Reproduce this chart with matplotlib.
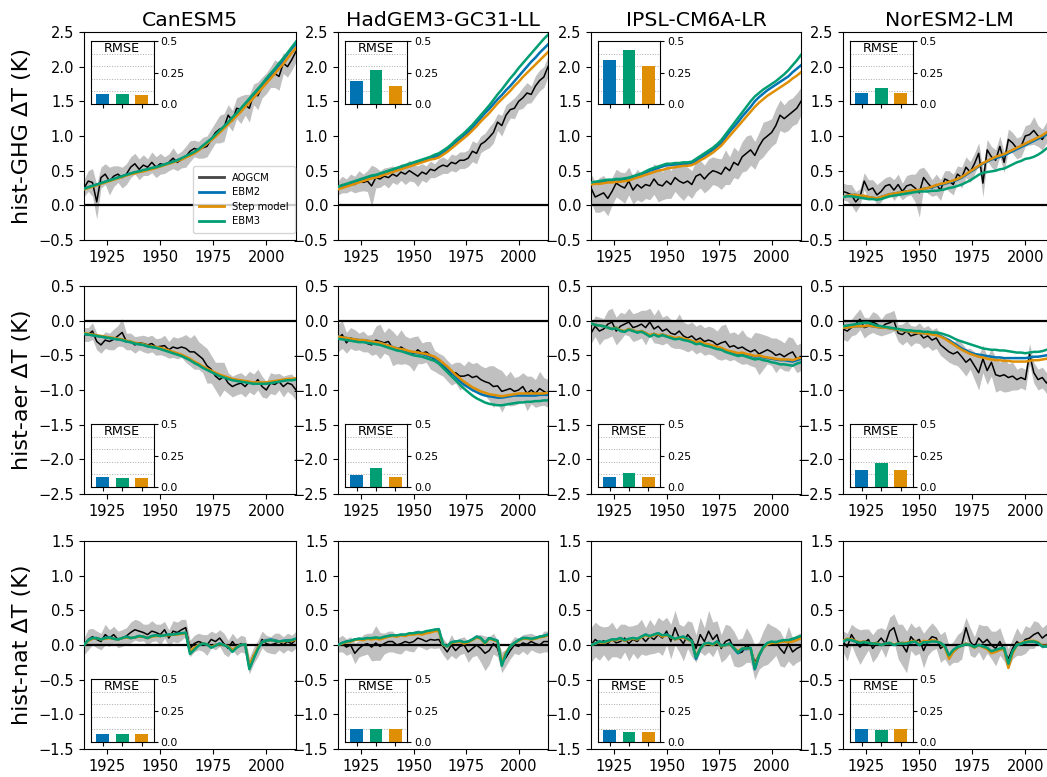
import numpy as np
import matplotlib.pyplot as plt
from matplotlib.lines import Line2D
from matplotlib.ticker import MultipleLocator

years = np.arange(1914, 2015, 2)
models = ["CanESM5", "HadGEM3-GC31-LL", "IPSL-CM6A-LR", "NorESM2-LM"]
experiments = ["hist-GHG", "hist-aer", "hist-nat"]
series_labels = ["AOGCM", "EBM2", "Step model", "EBM3"]
rmse_labels = ["EBM2", "EBM3", "Step model"]

# ---------------- hist-GHG ----------------
ghg_can_aogcm = [0.25, 0.35, 0.33, 0.05, 0.40, 0.45, 0.35, 0.42, 0.45, 0.40,
                 0.45, 0.55, 0.60, 0.52, 0.58, 0.55, 0.62, 0.55, 0.60, 0.58,
                 0.62, 0.68, 0.62, 0.66, 0.70, 0.78, 0.82, 0.80, 0.83, 0.85,
                 0.95, 1.05, 1.10, 1.12, 1.30, 1.22, 1.40, 1.38, 1.45, 1.40,
                 1.60, 1.58, 1.70, 1.76, 1.85, 1.90, 1.86, 2.05, 2.00, 2.10, 2.22]
ghg_can_spread = [0.12, 0.15, 0.20, 0.25, 0.15, 0.15, 0.20, 0.15, 0.12, 0.15,
                  0.15, 0.15, 0.15, 0.15, 0.15, 0.12, 0.15, 0.15, 0.15, 0.12,
                  0.12, 0.15, 0.12, 0.12, 0.15, 0.15, 0.12, 0.12, 0.15, 0.15,
                  0.15, 0.15, 0.20, 0.20, 0.15, 0.15, 0.15, 0.20, 0.15, 0.20,
                  0.15, 0.20, 0.15, 0.15, 0.15, 0.20, 0.20, 0.15, 0.15, 0.15, 0.15]
ghg_can_ebm2 = [0.24, 0.26, 0.28, 0.30, 0.32, 0.34, 0.36, 0.38, 0.40, 0.42,
                0.44, 0.46, 0.47, 0.49, 0.50, 0.52, 0.53, 0.55, 0.57, 0.59,
                0.61, 0.63, 0.65, 0.67, 0.70, 0.73, 0.76, 0.80, 0.85, 0.90,
                0.95, 1.01, 1.07, 1.13, 1.19, 1.25, 1.31, 1.38, 1.45, 1.52,
                1.59, 1.66, 1.73, 1.81, 1.88, 1.95, 2.02, 2.10, 2.18, 2.26, 2.33]
ghg_can_step = [0.23, 0.25, 0.27, 0.29, 0.31, 0.33, 0.35, 0.37, 0.39, 0.41,
                0.43, 0.45, 0.46, 0.48, 0.49, 0.51, 0.52, 0.54, 0.56, 0.58,
                0.60, 0.62, 0.64, 0.66, 0.69, 0.72, 0.75, 0.79, 0.84, 0.89,
                0.94, 0.99, 1.05, 1.11, 1.17, 1.23, 1.29, 1.35, 1.42, 1.48,
                1.55, 1.62, 1.69, 1.76, 1.83, 1.90, 1.97, 2.04, 2.12, 2.20, 2.27]
ghg_can_ebm3 = [0.24, 0.26, 0.28, 0.30, 0.32, 0.34, 0.36, 0.38, 0.40, 0.42,
                0.44, 0.46, 0.48, 0.49, 0.51, 0.52, 0.54, 0.55, 0.57, 0.59,
                0.61, 0.63, 0.65, 0.68, 0.71, 0.74, 0.77, 0.81, 0.86, 0.91,
                0.96, 1.02, 1.08, 1.14, 1.20, 1.27, 1.33, 1.40, 1.47, 1.54,
                1.61, 1.68, 1.75, 1.83, 1.90, 1.97, 2.05, 2.12, 2.20, 2.28, 2.36]

ghg_had_aogcm = [0.25, 0.30, 0.28, 0.33, 0.30, 0.35, 0.33, 0.35, 0.28, 0.40,
                 0.38, 0.42, 0.40, 0.45, 0.42, 0.48, 0.45, 0.50, 0.46, 0.42,
                 0.48, 0.45, 0.52, 0.50, 0.55, 0.58, 0.56, 0.62, 0.60, 0.65,
                 0.65, 0.68, 0.78, 0.75, 0.88, 0.92, 0.98, 1.05, 1.20, 1.15,
                 1.30, 1.38, 1.40, 1.50, 1.55, 1.62, 1.60, 1.72, 1.80, 1.85, 2.00]
ghg_had_spread = [0.10, 0.12, 0.10, 0.12, 0.12, 0.15, 0.12, 0.15, 0.30, 0.15,
                  0.12, 0.12, 0.15, 0.12, 0.12, 0.12, 0.15, 0.15, 0.12, 0.15,
                  0.12, 0.12, 0.12, 0.10, 0.12, 0.12, 0.10, 0.12, 0.12, 0.12,
                  0.12, 0.12, 0.15, 0.15, 0.12, 0.12, 0.15, 0.15, 0.12, 0.15,
                  0.15, 0.12, 0.15, 0.12, 0.15, 0.15, 0.12, 0.15, 0.15, 0.15, 0.15]
ghg_had_ebm2 = [0.25, 0.27, 0.29, 0.31, 0.33, 0.35, 0.37, 0.39, 0.41, 0.42,
                0.44, 0.46, 0.48, 0.50, 0.52, 0.54, 0.56, 0.58, 0.60, 0.62,
                0.64, 0.66, 0.68, 0.70, 0.72, 0.76, 0.80, 0.85, 0.91, 0.96,
                1.01, 1.06, 1.12, 1.19, 1.26, 1.33, 1.39, 1.46, 1.53, 1.59,
                1.66, 1.72, 1.79, 1.86, 1.93, 2.00, 2.07, 2.13, 2.20, 2.26, 2.32]
ghg_had_step = [0.23, 0.25, 0.27, 0.29, 0.31, 0.33, 0.35, 0.37, 0.39, 0.40,
                0.42, 0.44, 0.46, 0.48, 0.50, 0.52, 0.54, 0.56, 0.58, 0.60,
                0.62, 0.64, 0.66, 0.67, 0.69, 0.73, 0.77, 0.82, 0.87, 0.92,
                0.97, 1.02, 1.08, 1.14, 1.21, 1.27, 1.33, 1.40, 1.47, 1.53,
                1.59, 1.65, 1.72, 1.78, 1.85, 1.91, 1.97, 2.03, 2.09, 2.15, 2.21]
ghg_had_ebm3 = [0.27, 0.29, 0.31, 0.33, 0.35, 0.37, 0.39, 0.41, 0.43, 0.44,
                0.46, 0.48, 0.50, 0.52, 0.54, 0.56, 0.58, 0.60, 0.62, 0.64,
                0.66, 0.68, 0.70, 0.73, 0.75, 0.79, 0.83, 0.88, 0.94, 0.99,
                1.04, 1.10, 1.16, 1.23, 1.30, 1.37, 1.44, 1.52, 1.60, 1.67,
                1.75, 1.83, 1.90, 1.98, 2.05, 2.12, 2.19, 2.26, 2.33, 2.40, 2.46]

ghg_ipsl_aogcm = [0.25, 0.12, 0.15, 0.18, 0.10, 0.20, 0.32, 0.28, 0.25, 0.35,
                  0.22, 0.30, 0.25, 0.30, 0.28, 0.38, 0.30, 0.28, 0.35, 0.30,
                  0.40, 0.35, 0.32, 0.35, 0.30, 0.42, 0.45, 0.38, 0.45, 0.50,
                  0.48, 0.45, 0.55, 0.50, 0.62, 0.58, 0.70, 0.75, 0.80, 0.72,
                  0.85, 0.95, 1.00, 1.05, 1.15, 1.30, 1.25, 1.30, 1.35, 1.40, 1.50]
ghg_ipsl_spread = [0.20, 0.22, 0.25, 0.25, 0.25, 0.20, 0.20, 0.20, 0.22, 0.20,
                   0.20, 0.22, 0.20, 0.20, 0.20, 0.22, 0.25, 0.20, 0.25, 0.20,
                   0.20, 0.22, 0.25, 0.20, 0.20, 0.22, 0.20, 0.20, 0.22, 0.20,
                   0.20, 0.22, 0.25, 0.20, 0.22, 0.20, 0.22, 0.25, 0.22, 0.20,
                   0.20, 0.25, 0.22, 0.20, 0.25, 0.22, 0.20, 0.22, 0.20, 0.22, 0.20]
ghg_ipsl_ebm2 = [0.32, 0.33, 0.33, 0.34, 0.35, 0.35, 0.36, 0.36, 0.37, 0.38,
                 0.40, 0.42, 0.44, 0.47, 0.50, 0.52, 0.54, 0.56, 0.58, 0.58,
                 0.59, 0.59, 0.60, 0.60, 0.61, 0.64, 0.68, 0.72, 0.76, 0.80,
                 0.85, 0.90, 0.98, 1.06, 1.13, 1.20, 1.28, 1.35, 1.42, 1.50,
                 1.56, 1.61, 1.66, 1.70, 1.74, 1.78, 1.82, 1.86, 1.92, 1.97, 2.02]
ghg_ipsl_step = [0.30, 0.31, 0.31, 0.32, 0.33, 0.33, 0.34, 0.34, 0.35, 0.36,
                 0.38, 0.40, 0.42, 0.44, 0.46, 0.48, 0.50, 0.51, 0.53, 0.54,
                 0.55, 0.56, 0.57, 0.57, 0.58, 0.61, 0.65, 0.68, 0.72, 0.76,
                 0.81, 0.86, 0.93, 1.00, 1.07, 1.14, 1.21, 1.28, 1.35, 1.42,
                 1.48, 1.53, 1.58, 1.62, 1.66, 1.70, 1.74, 1.78, 1.83, 1.87, 1.92]
ghg_ipsl_ebm3 = [0.33, 0.34, 0.35, 0.36, 0.37, 0.37, 0.38, 0.38, 0.39, 0.40,
                 0.42, 0.44, 0.46, 0.49, 0.52, 0.54, 0.56, 0.58, 0.60, 0.60,
                 0.61, 0.61, 0.62, 0.62, 0.63, 0.67, 0.71, 0.75, 0.79, 0.83,
                 0.88, 0.94, 1.02, 1.10, 1.18, 1.26, 1.34, 1.42, 1.50, 1.57,
                 1.62, 1.67, 1.71, 1.75, 1.79, 1.84, 1.89, 1.95, 2.02, 2.09, 2.17]

ghg_nor_aogcm = [0.20, 0.18, 0.15, 0.05, 0.12, 0.35, 0.22, 0.25, 0.15, 0.20,
                 0.28, 0.30, 0.22, 0.30, 0.20, 0.28, 0.30, 0.25, 0.18, 0.40,
                 0.32, 0.25, 0.30, 0.22, 0.38, 0.35, 0.30, 0.45, 0.40, 0.55,
                 0.48, 0.60, 0.75, 0.32, 0.80, 0.70, 0.65, 0.85, 0.62, 0.95,
                 0.90, 0.82, 0.85, 1.00, 1.02, 1.08, 1.00, 0.95, 1.05, 0.92, 1.00]
ghg_nor_spread = [0.12, 0.12, 0.15, 0.15, 0.12, 0.12, 0.15, 0.12, 0.15, 0.15,
                  0.12, 0.12, 0.15, 0.15, 0.12, 0.15, 0.15, 0.20, 0.35, 0.15,
                  0.15, 0.12, 0.15, 0.15, 0.12, 0.15, 0.15, 0.12, 0.15, 0.15,
                  0.15, 0.15, 0.15, 0.20, 0.15, 0.15, 0.15, 0.15, 0.15, 0.15,
                  0.15, 0.15, 0.15, 0.15, 0.15, 0.20, 0.15, 0.15, 0.15, 0.15, 0.15]
ghg_nor_ebm2 = [0.12, 0.14, 0.15, 0.15, 0.14, 0.13, 0.12, 0.11, 0.10, 0.12,
                0.14, 0.16, 0.17, 0.18, 0.19, 0.20, 0.21, 0.21, 0.22, 0.24,
                0.25, 0.26, 0.28, 0.30, 0.31, 0.33, 0.35, 0.37, 0.40, 0.44,
                0.48, 0.52, 0.56, 0.60, 0.63, 0.66, 0.68, 0.70, 0.72, 0.75,
                0.78, 0.81, 0.84, 0.87, 0.90, 0.93, 0.96, 0.99, 1.02, 1.05, 1.08]
ghg_nor_step = [0.12, 0.14, 0.15, 0.15, 0.14, 0.14, 0.12, 0.11, 0.10, 0.12,
                0.14, 0.16, 0.17, 0.18, 0.19, 0.20, 0.21, 0.22, 0.22, 0.24,
                0.25, 0.27, 0.29, 0.31, 0.32, 0.34, 0.36, 0.38, 0.41, 0.45,
                0.49, 0.53, 0.57, 0.61, 0.64, 0.67, 0.70, 0.72, 0.74, 0.77,
                0.80, 0.83, 0.86, 0.89, 0.92, 0.95, 0.98, 1.01, 1.05, 1.09, 1.12]
ghg_nor_ebm3 = [0.12, 0.13, 0.13, 0.12, 0.11, 0.10, 0.09, 0.09, 0.08, 0.09,
                0.11, 0.13, 0.14, 0.15, 0.16, 0.17, 0.18, 0.19, 0.20, 0.20,
                0.20, 0.21, 0.21, 0.22, 0.23, 0.25, 0.26, 0.28, 0.30, 0.33,
                0.36, 0.40, 0.44, 0.47, 0.48, 0.49, 0.50, 0.52, 0.53, 0.56,
                0.59, 0.62, 0.64, 0.67, 0.68, 0.70, 0.73, 0.77, 0.82, 0.85, 0.88]

# ---------------- hist-aer ----------------
aer_can_aogcm = [-0.20, -0.20, -0.15, -0.30, -0.35, -0.28, -0.30, -0.27, -0.22, -0.17,
                 -0.30, -0.30, -0.35, -0.32, -0.33, -0.35, -0.33, -0.38, -0.37, -0.36,
                 -0.42, -0.38, -0.40, -0.38, -0.40, -0.45, -0.45, -0.50, -0.55, -0.65,
                 -0.70, -0.80, -0.85, -0.80, -0.90, -0.95, -0.92, -0.90, -0.95, -0.88,
                 -0.92, -0.85, -0.95, -1.00, -0.90, -0.92, -0.88, -0.95, -0.90, -0.92, -1.00]
aer_can_spread = [0.10, 0.10, 0.12, 0.12, 0.12, 0.12, 0.12, 0.15, 0.15, 0.20,
                  0.12, 0.12, 0.12, 0.10, 0.12, 0.12, 0.12, 0.12, 0.12, 0.15,
                  0.12, 0.15, 0.15, 0.15, 0.20, 0.20, 0.25, 0.20, 0.20, 0.25,
                  0.20, 0.20, 0.25, 0.20, 0.15, 0.15, 0.15, 0.15, 0.15, 0.15,
                  0.15, 0.15, 0.15, 0.12, 0.15, 0.15, 0.12, 0.15, 0.12, 0.15, 0.15]
aer_can_ebm2 = [-0.19, -0.20, -0.21, -0.22, -0.23, -0.24, -0.25, -0.26, -0.27, -0.28,
                -0.30, -0.31, -0.33, -0.34, -0.35, -0.37, -0.38, -0.39, -0.40, -0.42,
                -0.44, -0.46, -0.48, -0.50, -0.53, -0.56, -0.60, -0.63, -0.67, -0.70,
                -0.73, -0.76, -0.79, -0.81, -0.83, -0.85, -0.86, -0.87, -0.88, -0.89,
                -0.90, -0.90, -0.90, -0.90, -0.89, -0.88, -0.87, -0.86, -0.85, -0.85, -0.84]
aer_can_step = [-0.18, -0.19, -0.20, -0.21, -0.22, -0.23, -0.24, -0.25, -0.26, -0.27,
                -0.29, -0.30, -0.32, -0.33, -0.34, -0.36, -0.37, -0.38, -0.39, -0.41,
                -0.43, -0.45, -0.47, -0.49, -0.52, -0.55, -0.59, -0.62, -0.66, -0.69,
                -0.72, -0.75, -0.78, -0.80, -0.82, -0.84, -0.85, -0.86, -0.87, -0.88,
                -0.89, -0.89, -0.89, -0.89, -0.88, -0.87, -0.86, -0.85, -0.84, -0.84, -0.83]
aer_can_ebm3 = [-0.19, -0.20, -0.21, -0.22, -0.23, -0.24, -0.25, -0.26, -0.27, -0.28,
                -0.30, -0.31, -0.33, -0.34, -0.35, -0.37, -0.38, -0.39, -0.41, -0.43,
                -0.45, -0.47, -0.49, -0.51, -0.54, -0.57, -0.61, -0.64, -0.68, -0.71,
                -0.74, -0.77, -0.80, -0.82, -0.84, -0.86, -0.87, -0.88, -0.89, -0.90,
                -0.91, -0.91, -0.91, -0.91, -0.90, -0.89, -0.88, -0.87, -0.86, -0.86, -0.85]

aer_had_aogcm = [-0.25, -0.20, -0.32, -0.25, -0.28, -0.30, -0.30, -0.33, -0.35, -0.28,
                 -0.30, -0.32, -0.30, -0.40, -0.42, -0.38, -0.42, -0.45, -0.48, -0.42,
                 -0.47, -0.45, -0.50, -0.58, -0.62, -0.65, -0.72, -0.78, -0.75, -0.80,
                 -0.80, -0.78, -0.82, -0.80, -0.85, -0.88, -0.90, -0.95, -0.94, -1.02,
                 -1.00, -0.98, -1.02, -1.00, -0.95, -1.05, -1.00, -1.05, -0.98, -1.02, -1.05]
aer_had_spread = [0.20, 0.20, 0.15, 0.15, 0.15, 0.12, 0.15, 0.12, 0.15, 0.20,
                  0.25, 0.15, 0.20, 0.25, 0.20, 0.25, 0.20, 0.20, 0.25, 0.20,
                  0.15, 0.15, 0.20, 0.15, 0.15, 0.15, 0.15, 0.15, 0.15, 0.20,
                  0.15, 0.20, 0.20, 0.20, 0.20, 0.20, 0.25, 0.30, 0.25, 0.30,
                  0.20, 0.25, 0.20, 0.20, 0.20, 0.25, 0.20, 0.20, 0.25, 0.20, 0.20]
aer_had_ebm2 = [-0.23, -0.24, -0.25, -0.26, -0.27, -0.28, -0.28, -0.29, -0.30, -0.31,
                -0.32, -0.34, -0.36, -0.38, -0.40, -0.41, -0.43, -0.45, -0.46, -0.47,
                -0.48, -0.50, -0.52, -0.54, -0.58, -0.63, -0.69, -0.75, -0.81, -0.87,
                -0.92, -0.96, -1.00, -1.03, -1.06, -1.08, -1.09, -1.10, -1.11, -1.11,
                -1.10, -1.09, -1.08, -1.08, -1.08, -1.08, -1.08, -1.08, -1.07, -1.07, -1.07]
aer_had_step = [-0.23, -0.24, -0.25, -0.26, -0.27, -0.28, -0.28, -0.29, -0.30, -0.31,
                -0.32, -0.34, -0.36, -0.38, -0.40, -0.41, -0.42, -0.44, -0.45, -0.46,
                -0.47, -0.48, -0.50, -0.52, -0.56, -0.61, -0.66, -0.72, -0.78, -0.83,
                -0.88, -0.92, -0.96, -0.99, -1.02, -1.04, -1.06, -1.07, -1.08, -1.09,
                -1.08, -1.07, -1.06, -1.05, -1.05, -1.05, -1.05, -1.05, -1.05, -1.05, -1.04]
aer_had_ebm3 = [-0.26, -0.27, -0.28, -0.29, -0.30, -0.31, -0.31, -0.32, -0.33, -0.34,
                -0.35, -0.37, -0.39, -0.41, -0.43, -0.44, -0.46, -0.48, -0.50, -0.51,
                -0.52, -0.54, -0.56, -0.58, -0.62, -0.68, -0.74, -0.80, -0.86, -0.92,
                -0.98, -1.03, -1.08, -1.12, -1.15, -1.18, -1.20, -1.21, -1.22, -1.22,
                -1.21, -1.20, -1.19, -1.18, -1.18, -1.17, -1.17, -1.16, -1.16, -1.15, -1.15]

aer_ipsl_aogcm = [-0.18, -0.08, -0.15, -0.12, -0.05, -0.02, -0.15, -0.08, -0.05, -0.02,
                  -0.10, -0.08, -0.05, -0.10, -0.02, -0.12, -0.08, -0.15, -0.12, -0.18,
                  -0.20, -0.15, -0.22, -0.25, -0.22, -0.28, -0.25, -0.30, -0.28, -0.30,
                  -0.35, -0.32, -0.30, -0.38, -0.36, -0.40, -0.38, -0.42, -0.45, -0.42,
                  -0.48, -0.45, -0.42, -0.45, -0.50, -0.48, -0.52, -0.48, -0.45, -0.55, -0.52]
aer_ipsl_spread = [0.15, 0.15, 0.20, 0.15, 0.20, 0.20, 0.20, 0.20, 0.15, 0.20,
                   0.20, 0.20, 0.20, 0.25, 0.20, 0.20, 0.25, 0.20, 0.20, 0.20,
                   0.20, 0.25, 0.20, 0.20, 0.20, 0.20, 0.20, 0.20, 0.20, 0.20,
                   0.20, 0.25, 0.25, 0.20, 0.20, 0.20, 0.25, 0.20, 0.20, 0.25,
                   0.30, 0.25, 0.20, 0.20, 0.25, 0.20, 0.20, 0.25, 0.20, 0.20, 0.20]
aer_ipsl_ebm2 = [-0.04, -0.06, -0.07, -0.08, -0.10, -0.12, -0.10, -0.14, -0.16, -0.12,
                 -0.14, -0.17, -0.15, -0.18, -0.22, -0.19, -0.22, -0.20, -0.22, -0.24,
                 -0.26, -0.25, -0.27, -0.28, -0.30, -0.32, -0.31, -0.34, -0.35, -0.37,
                 -0.39, -0.40, -0.43, -0.45, -0.46, -0.48, -0.47, -0.49, -0.50, -0.52,
                 -0.51, -0.53, -0.54, -0.55, -0.56, -0.57, -0.57, -0.58, -0.59, -0.57, -0.55]
aer_ipsl_step = [-0.04, -0.06, -0.07, -0.08, -0.10, -0.12, -0.10, -0.14, -0.15, -0.12,
                 -0.14, -0.16, -0.15, -0.18, -0.21, -0.19, -0.21, -0.20, -0.22, -0.23,
                 -0.25, -0.24, -0.26, -0.27, -0.29, -0.31, -0.30, -0.33, -0.34, -0.36,
                 -0.38, -0.39, -0.42, -0.44, -0.45, -0.47, -0.46, -0.48, -0.49, -0.51,
                 -0.50, -0.52, -0.53, -0.54, -0.55, -0.56, -0.56, -0.56, -0.57, -0.55, -0.53]
aer_ipsl_ebm3 = [-0.04, -0.06, -0.07, -0.08, -0.10, -0.12, -0.11, -0.15, -0.16, -0.13,
                 -0.15, -0.17, -0.16, -0.19, -0.23, -0.20, -0.23, -0.21, -0.23, -0.25,
                 -0.27, -0.26, -0.28, -0.29, -0.31, -0.34, -0.33, -0.36, -0.37, -0.39,
                 -0.41, -0.42, -0.45, -0.47, -0.49, -0.51, -0.50, -0.52, -0.54, -0.56,
                 -0.55, -0.57, -0.58, -0.60, -0.61, -0.63, -0.63, -0.64, -0.65, -0.62, -0.60]

aer_nor_aogcm = [-0.12, -0.15, -0.10, -0.05, 0.02, -0.10, -0.08, -0.02, -0.05, -0.10,
                 -0.05, -0.03, 0.00, -0.18, -0.20, -0.15, -0.22, -0.20, -0.18, -0.25,
                 -0.22, -0.28, -0.25, -0.35, -0.40, -0.45, -0.48, -0.45, -0.52, -0.60,
                 -0.55, -0.65, -0.75, -0.55, -0.72, -0.60, -0.78, -0.80, -0.78, -0.82,
                 -0.80, -0.85, -0.82, -0.85, -0.48, -0.75, -0.85, -0.82, -0.90, -0.82, -0.88]
aer_nor_spread = [0.15, 0.15, 0.12, 0.15, 0.15, 0.15, 0.12, 0.15, 0.15, 0.12,
                  0.15, 0.15, 0.15, 0.12, 0.15, 0.15, 0.15, 0.12, 0.15, 0.15,
                  0.15, 0.15, 0.15, 0.15, 0.15, 0.15, 0.15, 0.20, 0.20, 0.20,
                  0.15, 0.20, 0.25, 0.20, 0.20, 0.20, 0.25, 0.20, 0.25, 0.20,
                  0.20, 0.15, 0.15, 0.15, 0.15, 0.15, 0.15, 0.15, 0.15, 0.15, 0.15]
aer_nor_ebm2 = [-0.10, -0.10, -0.09, -0.08, -0.08, -0.08, -0.07, -0.08, -0.09, -0.10,
                -0.10, -0.11, -0.12, -0.13, -0.14, -0.15, -0.16, -0.17, -0.18, -0.18,
                -0.18, -0.19, -0.20, -0.22, -0.25, -0.28, -0.32, -0.36, -0.40, -0.43,
                -0.46, -0.48, -0.49, -0.50, -0.51, -0.52, -0.53, -0.53, -0.54, -0.54,
                -0.54, -0.54, -0.54, -0.54, -0.53, -0.52, -0.52, -0.51, -0.50, -0.48, -0.45]
aer_nor_step = [-0.10, -0.10, -0.09, -0.08, -0.08, -0.08, -0.07, -0.08, -0.09, -0.10,
                -0.10, -0.11, -0.12, -0.13, -0.14, -0.15, -0.16, -0.17, -0.18, -0.18,
                -0.19, -0.20, -0.21, -0.23, -0.26, -0.30, -0.34, -0.38, -0.42, -0.45,
                -0.48, -0.50, -0.52, -0.53, -0.55, -0.56, -0.57, -0.57, -0.58, -0.58,
                -0.59, -0.59, -0.59, -0.59, -0.58, -0.57, -0.57, -0.56, -0.55, -0.52, -0.48]
aer_nor_ebm3 = [-0.08, -0.07, -0.06, -0.05, -0.04, -0.03, -0.03, -0.05, -0.07, -0.08,
                -0.09, -0.10, -0.11, -0.12, -0.13, -0.14, -0.14, -0.15, -0.15, -0.16,
                -0.16, -0.17, -0.17, -0.18, -0.20, -0.22, -0.25, -0.28, -0.30, -0.32,
                -0.34, -0.36, -0.38, -0.40, -0.41, -0.42, -0.42, -0.43, -0.43, -0.44,
                -0.45, -0.46, -0.46, -0.47, -0.46, -0.45, -0.45, -0.44, -0.42, -0.40, -0.38]

# ---------------- hist-nat ----------------
nat_can_aogcm = [-0.02, 0.08, 0.12, 0.08, 0.05, 0.15, 0.10, 0.15, 0.08, 0.10,
                 0.13, 0.18, 0.22, 0.20, 0.18, 0.15, 0.20, 0.18, 0.15, 0.22,
                 0.10, 0.20, 0.18, 0.22, 0.25, -0.05, 0.02, 0.05, 0.03, 0.00,
                 0.08, 0.05, 0.10, 0.02, -0.05, 0.05, -0.03, 0.02, 0.00, -0.30,
                 -0.15, -0.05, 0.08, 0.02, 0.00, 0.02, 0.05, 0.00, 0.05, 0.02, 0.08]
nat_can_spread = [0.12, 0.15, 0.12, 0.12, 0.12, 0.15, 0.12, 0.12, 0.12, 0.12,
                  0.12, 0.15, 0.15, 0.15, 0.12, 0.15, 0.15, 0.12, 0.15, 0.12,
                  0.12, 0.15, 0.15, 0.15, 0.12, 0.12, 0.12, 0.12, 0.12, 0.15,
                  0.12, 0.12, 0.12, 0.15, 0.12, 0.12, 0.12, 0.12, 0.12, 0.12,
                  0.12, 0.12, 0.12, 0.12, 0.12, 0.15, 0.12, 0.12, 0.12, 0.12, 0.12]
nat_can_ebm2 = [0.00, 0.07, 0.10, 0.10, 0.08, 0.10, 0.11, 0.09, 0.08, 0.10,
                0.12, 0.10, 0.11, 0.13, 0.12, 0.10, 0.13, 0.14, 0.13, 0.14,
                0.15, 0.15, 0.16, 0.17, 0.17, -0.10, -0.05, 0.00, 0.02, 0.01,
                -0.03, 0.00, 0.02, 0.00, -0.02, -0.08, -0.03, 0.00, 0.01, -0.32,
                -0.18, -0.05, 0.05, 0.07, 0.08, 0.07, 0.05, 0.06, 0.07, 0.07, 0.09]
nat_can_step = [0.00, 0.06, 0.09, 0.10, 0.08, 0.09, 0.10, 0.09, 0.08, 0.10,
                0.11, 0.10, 0.11, 0.12, 0.12, 0.10, 0.12, 0.13, 0.13, 0.14,
                0.14, 0.15, 0.15, 0.16, 0.17, -0.09, -0.04, 0.00, 0.02, 0.01,
                -0.03, 0.00, 0.01, 0.00, -0.02, -0.07, -0.03, 0.00, 0.01, -0.30,
                -0.16, -0.04, 0.04, 0.06, 0.07, 0.06, 0.05, 0.05, 0.06, 0.06, 0.08]
nat_can_ebm3 = [0.00, 0.07, 0.10, 0.10, 0.08, 0.10, 0.11, 0.09, 0.08, 0.10,
                0.12, 0.10, 0.11, 0.13, 0.12, 0.10, 0.13, 0.14, 0.13, 0.14,
                0.15, 0.15, 0.16, 0.17, 0.18, -0.13, -0.07, -0.01, 0.02, 0.01,
                -0.04, -0.01, 0.02, 0.00, -0.03, -0.10, -0.04, 0.00, 0.01, -0.35,
                -0.20, -0.06, 0.04, 0.06, 0.07, 0.06, 0.05, 0.06, 0.06, 0.07, 0.09]

nat_had_aogcm = [0.00, 0.02, -0.03, 0.00, -0.12, -0.05, 0.00, 0.02, -0.03, 0.03,
                 -0.02, 0.02, 0.05, 0.05, 0.00, 0.02, 0.05, 0.03, 0.05, 0.10,
                 0.08, 0.05, 0.08, 0.07, 0.08, -0.02, -0.10, 0.00, -0.08, -0.02,
                 0.00, -0.10, -0.05, 0.00, -0.05, -0.12, -0.08, 0.02, -0.05, -0.25,
                 -0.18, -0.08, 0.00, -0.02, 0.03, 0.01, 0.05, 0.02, 0.00, 0.05, 0.05]
nat_had_spread = [0.10, 0.12, 0.12, 0.12, 0.15, 0.12, 0.15, 0.15, 0.20, 0.25,
                  0.20, 0.15, 0.15, 0.15, 0.12, 0.15, 0.12, 0.12, 0.15, 0.12,
                  0.12, 0.12, 0.12, 0.12, 0.12, 0.12, 0.12, 0.15, 0.12, 0.12,
                  0.12, 0.15, 0.12, 0.15, 0.20, 0.25, 0.20, 0.15, 0.12, 0.15,
                  0.12, 0.12, 0.12, 0.12, 0.12, 0.15, 0.12, 0.12, 0.12, 0.15, 0.15]
nat_had_ebm2 = [0.00, 0.03, 0.05, 0.06, 0.08, 0.09, 0.08, 0.10, 0.09, 0.10,
                0.09, 0.11, 0.13, 0.14, 0.13, 0.15, 0.14, 0.16, 0.17, 0.18,
                0.17, 0.19, 0.20, 0.22, 0.22, 0.00, -0.02, 0.04, 0.05, 0.06,
                0.03, 0.05, 0.08, 0.12, 0.10, 0.03, 0.10, 0.08, 0.06, -0.28,
                -0.12, -0.02, 0.03, 0.07, 0.10, 0.10, 0.08, 0.10, 0.12, 0.13, 0.15]
nat_had_step = [0.00, 0.02, 0.04, 0.05, 0.07, 0.08, 0.07, 0.09, 0.08, 0.09,
                0.08, 0.10, 0.12, 0.13, 0.12, 0.14, 0.13, 0.15, 0.15, 0.16,
                0.15, 0.17, 0.18, 0.20, 0.20, 0.00, -0.02, 0.03, 0.04, 0.05,
                0.02, 0.04, 0.07, 0.11, 0.09, 0.02, 0.09, 0.07, 0.05, -0.26,
                -0.11, -0.02, 0.03, 0.06, 0.09, 0.09, 0.08, 0.09, 0.11, 0.12, 0.14]
nat_had_ebm3 = [0.00, 0.03, 0.05, 0.06, 0.08, 0.09, 0.09, 0.10, 0.10, 0.11,
                0.10, 0.12, 0.13, 0.14, 0.14, 0.15, 0.15, 0.17, 0.17, 0.18,
                0.18, 0.20, 0.21, 0.22, 0.23, 0.01, -0.02, 0.04, 0.05, 0.06,
                0.04, 0.05, 0.08, 0.12, 0.10, 0.03, 0.10, 0.08, 0.06, -0.30,
                -0.13, -0.02, 0.03, 0.07, 0.10, 0.10, 0.09, 0.10, 0.12, 0.13, 0.15]

nat_ipsl_aogcm = [0.00, 0.08, 0.03, 0.06, 0.02, 0.08, 0.03, 0.05, 0.10, 0.02,
                  0.08, 0.05, 0.12, 0.05, 0.12, 0.08, 0.15, 0.10, 0.20, 0.05,
                  0.25, 0.10, 0.02, 0.15, 0.08, -0.05, 0.15, 0.05, 0.20, 0.08,
                  0.15, -0.05, 0.05, 0.08, -0.05, -0.12, -0.10, 0.00, -0.05, -0.25,
                  -0.15, -0.05, 0.02, 0.03, 0.05, -0.05, -0.12, 0.02, -0.10, -0.05, -0.02]
nat_ipsl_spread = [0.25, 0.25, 0.25, 0.20, 0.25, 0.25, 0.20, 0.25, 0.20, 0.25,
                   0.20, 0.25, 0.25, 0.20, 0.25, 0.20, 0.25, 0.25, 0.20, 0.25,
                   0.25, 0.20, 0.25, 0.20, 0.25, 0.20, 0.25, 0.20, 0.30, 0.25,
                   0.20, 0.20, 0.25, 0.20, 0.25, 0.20, 0.20, 0.25, 0.20, 0.25,
                   0.20, 0.25, 0.30, 0.25, 0.20, 0.25, 0.20, 0.25, 0.20, 0.20, 0.20]
nat_ipsl_ebm2 = [0.00, 0.02, 0.05, 0.03, 0.05, 0.08, 0.07, 0.10, 0.06, 0.08,
                 0.10, 0.08, 0.12, 0.15, 0.12, 0.15, 0.17, 0.13, 0.15, 0.12,
                 0.08, 0.10, 0.12, 0.08, 0.05, -0.20, -0.06, 0.01, 0.03, 0.00,
                 0.05, -0.02, 0.00, 0.02, -0.05, -0.12, -0.06, -0.06, -0.05, -0.35,
                 -0.16, -0.04, 0.02, 0.04, 0.03, 0.05, 0.06, 0.06, 0.08, 0.10, 0.12]
nat_ipsl_step = [0.00, 0.02, 0.04, 0.03, 0.05, 0.07, 0.07, 0.09, 0.06, 0.08,
                 0.09, 0.08, 0.11, 0.14, 0.12, 0.14, 0.16, 0.12, 0.14, 0.12,
                 0.08, 0.10, 0.11, 0.08, 0.05, -0.16, -0.05, 0.01, 0.02, 0.00,
                 0.04, -0.02, 0.00, 0.01, -0.04, -0.09, -0.05, -0.05, -0.05, -0.31,
                 -0.14, -0.04, 0.01, 0.03, 0.03, 0.04, 0.05, 0.04, 0.05, 0.07, 0.10]
nat_ipsl_ebm3 = [0.00, 0.02, 0.05, 0.04, 0.06, 0.08, 0.08, 0.10, 0.07, 0.09,
                 0.10, 0.09, 0.12, 0.15, 0.13, 0.15, 0.17, 0.14, 0.15, 0.12,
                 0.09, 0.11, 0.12, 0.09, 0.06, -0.18, -0.05, 0.02, 0.03, 0.01,
                 0.05, -0.01, 0.00, 0.02, -0.04, -0.11, -0.05, -0.05, -0.04, -0.34,
                 -0.15, -0.03, 0.03, 0.05, 0.04, 0.06, 0.07, 0.07, 0.09, 0.11, 0.13]

nat_nor_aogcm = [0.05, -0.03, 0.15, 0.05, -0.03, 0.03, 0.08, -0.05, 0.03, 0.10,
                 0.02, 0.20, 0.25, 0.05, 0.00, -0.10, 0.12, 0.05, 0.08, -0.08,
                 0.05, 0.12, 0.10, -0.05, 0.00, -0.15, -0.10, -0.05, 0.00, 0.25,
                 0.05, -0.03, 0.10, 0.03, 0.08, 0.00, -0.05, 0.05, -0.08, -0.20,
                 -0.05, 0.05, 0.00, 0.08, 0.10, 0.15, 0.18, 0.10, 0.15, 0.08, 0.12]
nat_nor_spread = [0.15, 0.20, 0.15, 0.20, 0.25, 0.20, 0.15, 0.20, 0.20, 0.15,
                  0.20, 0.20, 0.20, 0.25, 0.30, 0.30, 0.20, 0.20, 0.20, 0.25,
                  0.20, 0.20, 0.15, 0.20, 0.20, 0.15, 0.15, 0.20, 0.20, 0.15,
                  0.20, 0.15, 0.20, 0.25, 0.20, 0.20, 0.25, 0.20, 0.15, 0.15,
                  0.15, 0.20, 0.15, 0.20, 0.15, 0.20, 0.15, 0.15, 0.15, 0.15, 0.15]
nat_nor_ebm2 = [0.05, 0.08, 0.07, 0.05, 0.03, 0.05, 0.03, 0.02, 0.03, 0.00,
                0.02, 0.03, 0.00, 0.02, 0.03, 0.02, 0.04, 0.05, 0.00, 0.05,
                0.04, 0.06, 0.05, 0.03, -0.02, -0.17, -0.08, -0.03, -0.01, 0.02,
                0.00, -0.03, 0.00, -0.02, -0.05, -0.10, -0.08, -0.06, -0.05, -0.30,
                -0.10, 0.00, 0.02, 0.04, 0.05, 0.05, 0.03, -0.02, -0.02, 0.00, 0.00]
nat_nor_step = [0.06, 0.09, 0.08, 0.06, 0.04, 0.05, 0.03, 0.02, 0.03, 0.00,
                0.02, 0.03, 0.01, 0.02, 0.03, 0.03, 0.05, 0.06, 0.01, 0.06,
                0.05, 0.07, 0.06, 0.03, -0.03, -0.20, -0.10, -0.04, -0.01, 0.02,
                0.00, -0.04, 0.00, -0.03, -0.06, -0.12, -0.10, -0.07, -0.06, -0.33,
                -0.12, 0.00, 0.03, 0.05, 0.06, 0.06, 0.04, -0.01, -0.01, 0.00, 0.00]
nat_nor_ebm3 = [0.05, 0.08, 0.07, 0.05, 0.03, 0.04, 0.03, 0.02, 0.02, 0.00,
                0.02, 0.03, 0.00, 0.02, 0.02, 0.02, 0.04, 0.05, 0.00, 0.04,
                0.04, 0.05, 0.05, 0.03, -0.02, -0.15, -0.07, -0.03, -0.01, 0.01,
                0.00, -0.03, 0.00, -0.02, -0.04, -0.09, -0.07, -0.05, -0.04, -0.27,
                -0.09, 0.00, 0.02, 0.04, 0.05, 0.05, 0.03, -0.02, -0.02, 0.00, 0.00]

# RMSE per panel, bar order: EBM2, EBM3, Step model
rmse_ghg = [[0.08, 0.08, 0.07], [0.18, 0.27, 0.14], [0.35, 0.43, 0.30], [0.09, 0.13, 0.09]]
rmse_aer = [[0.08, 0.07, 0.07], [0.09, 0.15, 0.08], [0.08, 0.11, 0.08], [0.13, 0.19, 0.13]]
rmse_nat = [[0.06, 0.06, 0.06], [0.10, 0.10, 0.10], [0.09, 0.08, 0.08], [0.10, 0.09, 0.10]]

panels = [
    [(ghg_can_aogcm, ghg_can_spread, ghg_can_ebm2, ghg_can_step, ghg_can_ebm3),
     (ghg_had_aogcm, ghg_had_spread, ghg_had_ebm2, ghg_had_step, ghg_had_ebm3),
     (ghg_ipsl_aogcm, ghg_ipsl_spread, ghg_ipsl_ebm2, ghg_ipsl_step, ghg_ipsl_ebm3),
     (ghg_nor_aogcm, ghg_nor_spread, ghg_nor_ebm2, ghg_nor_step, ghg_nor_ebm3)],
    [(aer_can_aogcm, aer_can_spread, aer_can_ebm2, aer_can_step, aer_can_ebm3),
     (aer_had_aogcm, aer_had_spread, aer_had_ebm2, aer_had_step, aer_had_ebm3),
     (aer_ipsl_aogcm, aer_ipsl_spread, aer_ipsl_ebm2, aer_ipsl_step, aer_ipsl_ebm3),
     (aer_nor_aogcm, aer_nor_spread, aer_nor_ebm2, aer_nor_step, aer_nor_ebm3)],
    [(nat_can_aogcm, nat_can_spread, nat_can_ebm2, nat_can_step, nat_can_ebm3),
     (nat_had_aogcm, nat_had_spread, nat_had_ebm2, nat_had_step, nat_had_ebm3),
     (nat_ipsl_aogcm, nat_ipsl_spread, nat_ipsl_ebm2, nat_ipsl_step, nat_ipsl_ebm3),
     (nat_nor_aogcm, nat_nor_spread, nat_nor_ebm2, nat_nor_step, nat_nor_ebm3)],
]
rmse = [rmse_ghg, rmse_aer, rmse_nat]
ylims = [(-0.5, 2.5), (-2.5, 0.5), (-1.5, 1.5)]

C_EBM2 = "#0173b2"
C_STEP = "#de8f05"
C_EBM3 = "#029e73"
C_BAND = "#c0c0c0"

W, H = 1047, 777
col_left = [84, 338, 591, 843]
col_width = [212, 210, 210, 212]
row_top = [32, 286, 541]
row_h = 208

fig = plt.figure(figsize=(W / 100, H / 100), dpi=100)

for r in range(3):
    for c in range(4):
        aogcm, spread, ebm2, step, ebm3 = [np.array(a) for a in panels[r][c]]
        ax = fig.add_axes([col_left[c] / W, 1 - (row_top[r] + row_h) / H,
                           col_width[c] / W, row_h / H])
        ax.fill_between(years, aogcm - spread, aogcm + spread, color=C_BAND, lw=0, zorder=1)
        ax.axhline(0, color="k", lw=1.6, zorder=1.5)
        ax.plot(years, aogcm, color="k", lw=1.1, zorder=2)
        ax.plot(years, ebm2, color=C_EBM2, lw=1.8, zorder=3)
        ax.plot(years, step, color=C_STEP, lw=1.8, zorder=3)
        ax.plot(years, ebm3, color=C_EBM3, lw=1.8, zorder=3)
        ax.set_xlim(1914, 2014)
        ax.set_ylim(*ylims[r])
        ax.set_xticks([1925, 1950, 1975, 2000])
        ax.yaxis.set_major_locator(MultipleLocator(0.5))
        ax.tick_params(labelsize=10.5)
        if r == 0:
            ax.set_title(models[c], fontsize=14.7, pad=4)
        if r == 0 and c == 0:
            handles = [Line2D([], [], color="#444444", lw=2),
                       Line2D([], [], color=C_EBM2, lw=2),
                       Line2D([], [], color=C_STEP, lw=2),
                       Line2D([], [], color=C_EBM3, lw=2)]
            ax.legend(handles, series_labels, loc="lower right", fontsize=7.2,
                      bbox_to_anchor=(1.02, 0.012), handlelength=2.5,
                      borderpad=0.65, labelspacing=0.45)

        # RMSE inset
        rect = [0.033, 0.655, 0.295, 0.30] if r == 0 else [0.033, 0.035, 0.295, 0.30]
        ins = ax.inset_axes(rect)
        ins.set_facecolor("white")
        ins.bar([0, 1, 2], rmse[r][c], width=0.65, color=[C_EBM2, C_EBM3, C_STEP], zorder=2)
        ins.set_xlim(-0.6, 2.6)
        ins.set_ylim(0, 0.5)
        ins.set_xticks([0, 1, 2])
        ins.set_xticklabels([])
        ins.set_yticks([0, 0.25, 0.5])
        ins.set_yticklabels(["0.0", "0.25", "0.5"])
        ins.yaxis.tick_right()
        ins.yaxis.set_minor_locator(MultipleLocator(0.1))
        ins.tick_params(which="minor", length=0)
        ins.tick_params(labelsize=7.8, length=3, pad=2)
        ins.grid(axis="y", which="minor", ls=":", color="#aaaaaa", lw=0.7)
        ins.set_axisbelow(True)
        # label is hidden when the bars reach into the top of the inset
        if max(rmse[r][c]) < 0.4:
            ins.text(0.5, 0.985, "RMSE", transform=ins.transAxes, ha="center", va="top",
                     fontsize=9.2)

for r, exp in enumerate(experiments):
    yc = 1 - (row_top[r] + row_h / 2) / H
    fig.text(22 / W, yc, exp + " ΔT (K)", rotation=90, ha="center", va="center", fontsize=16)

fig.savefig("out.png", dpi=100)
